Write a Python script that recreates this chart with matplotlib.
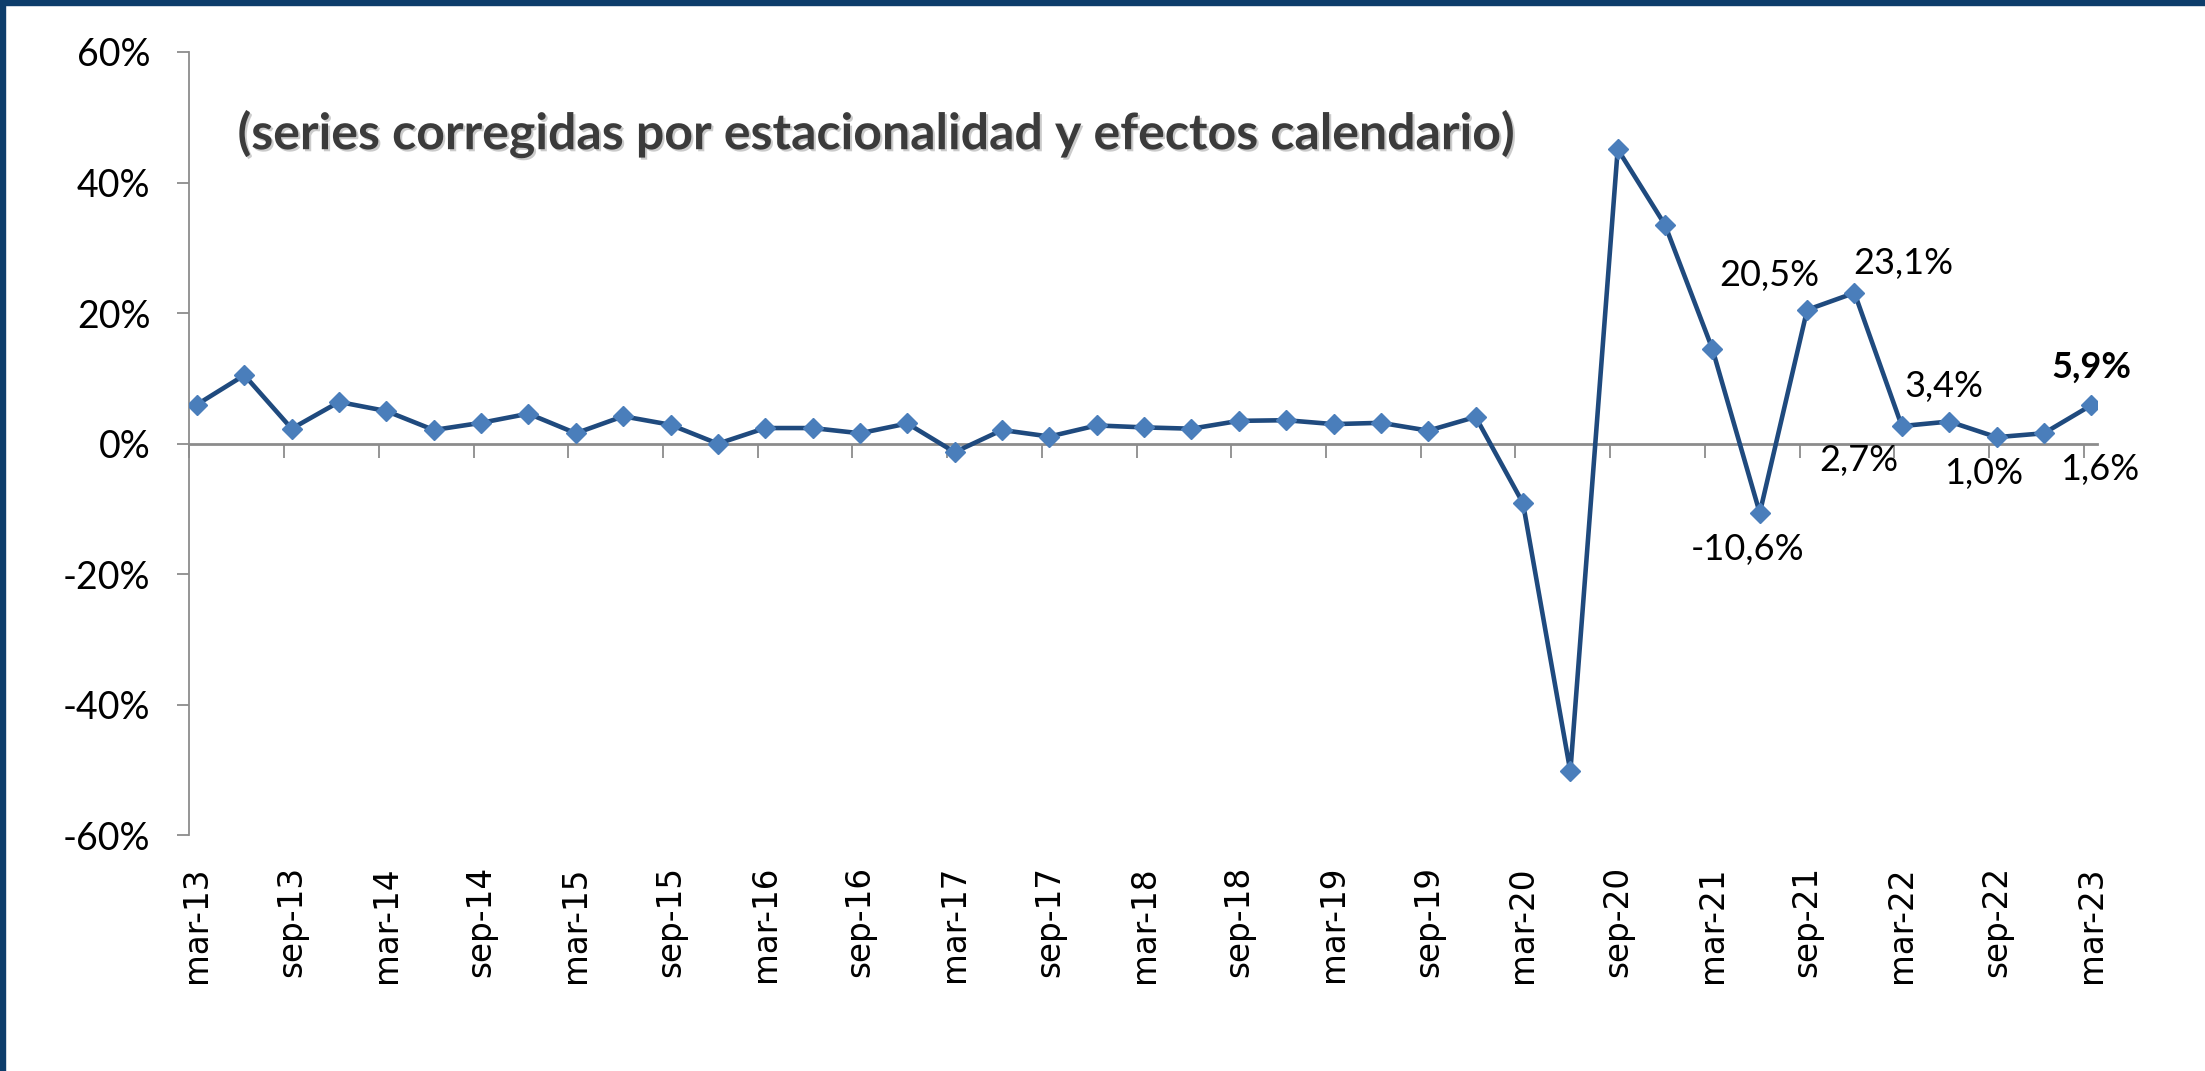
import numpy as np
import matplotlib.pyplot as plt
import matplotlib.patheffects as pe
from matplotlib.patches import Rectangle
from matplotlib.ticker import FuncFormatter

# quarterly series, mar-13 .. mar-23
years = list(range(2013, 2024))
months = ['mar', 'jun', 'sep', 'dic']
periods = [f'{m}-{str(y)[2:]}' for y in years for m in months][:41]

growth = [6.0, 10.5, 2.3, 6.4, 5.0, 2.1, 3.2, 4.6, 1.6, 4.2, 2.9, 0.0,
          2.4, 2.4, 1.6, 3.1, -1.3, 2.1, 1.1, 2.8, 2.5, 2.3, 3.5, 3.6,
          3.0, 3.2, 2.0, 4.1, -9.1, -50.2, 45.1, 33.5, 14.5, -10.6, 20.5, 23.1,
          2.7, 3.4, 1.0, 1.6, 5.9]

labelled = ['sep-21', 'dic-21', 'jun-21', 'mar-22', 'jun-22', 'sep-22', 'dic-22', 'mar-23']

# label offsets in points (dx, dy)
offsets = {'sep-21': (-27, 25), 'dic-21': (35, 21), 'jun-21': (-9, -26),
           'mar-22': (-31, -25), 'jun-22': (-4, 25), 'sep-22': (-9, -26),
           'dic-22': (40, -26), 'mar-23': (0, 27)}

def pct(v):
    return f'{v:.1f}'.replace('.', ',') + '%'

fig = plt.figure(figsize=(22.05, 10.71), dpi=100)
ax = fig.add_axes([0.0859, 0.2199, 0.951 - 0.0859, 0.9515 - 0.2199])

x = np.arange(len(growth))
ax.plot(x, growth, color='#1f4a7e', lw=3.3, marker='D', ms=10.5,
        mfc='#4a7ebb', mec='#4a7ebb', zorder=3)

ax.set_ylim(-60, 60)
ax.set_xlim(-0.16, 40.12)
ax.set_yticks(np.arange(-60, 61, 20))
ax.yaxis.set_major_formatter(FuncFormatter(lambda v, p: f'{v:.0f}%'))
ax.tick_params(axis='y', length=9, width=1.3, color='#8c8c8c', pad=19,
               labelsize=27)
for t in ax.get_yticklabels():
    t.set_family('Lato')

for s in ['top', 'right']:
    ax.spines[s].set_visible(False)
ax.spines['left'].set_color('#8c8c8c')
ax.spines['left'].set_linewidth(1.3)
ax.spines['bottom'].set_position(('data', 0))
ax.spines['bottom'].set_color('#8c8c8c')
ax.spines['bottom'].set_linewidth(2)
ax.set_xticks(np.arange(0, 41, 2) - 0.16)
ax.tick_params(axis='x', length=10, width=1.3, color='#8c8c8c', labelbottom=False)

sec = ax.secondary_xaxis('bottom')
sec.set_xticks(x[::2], [periods[i] for i in x[::2]])
sec.tick_params(length=0, pad=22, labelsize=23.5, labelrotation=90)
sec.spines['bottom'].set_visible(False)
for t in sec.get_xticklabels():
    t.set_family('DejaVu Sans')

for p in labelled:
    i = periods.index(p)
    bold = p == periods[-1]
    ax.annotate(pct(growth[i]), (x[i], growth[i]), xytext=offsets[p],
                textcoords='offset points', ha='center', va='center',
                fontsize=26, family='Lato',
                fontweight='bold' if bold else 'normal')

fig.text(0.397, 0.875, '(series corregidas por estacionalidad y efectos calendario)',
         ha='center', va='center', fontsize=36, fontweight='bold', family='Lato',
         color='#3b3b3b',
         path_effects=[pe.withSimplePatchShadow(offset=(1.5, -1.5), shadow_rgbFace='#999999', alpha=0.5)])

# frame edges (top and left)
fig.patches.append(Rectangle((0, 0.995), 1, 0.005, transform=fig.transFigure,
                             color='#0d3d6b', zorder=0))
fig.patches.append(Rectangle((0, 0), 0.0023, 1, transform=fig.transFigure,
                             color='#0d3d6b', zorder=0))

plt.savefig('out.png', dpi=100)
plt.close()
